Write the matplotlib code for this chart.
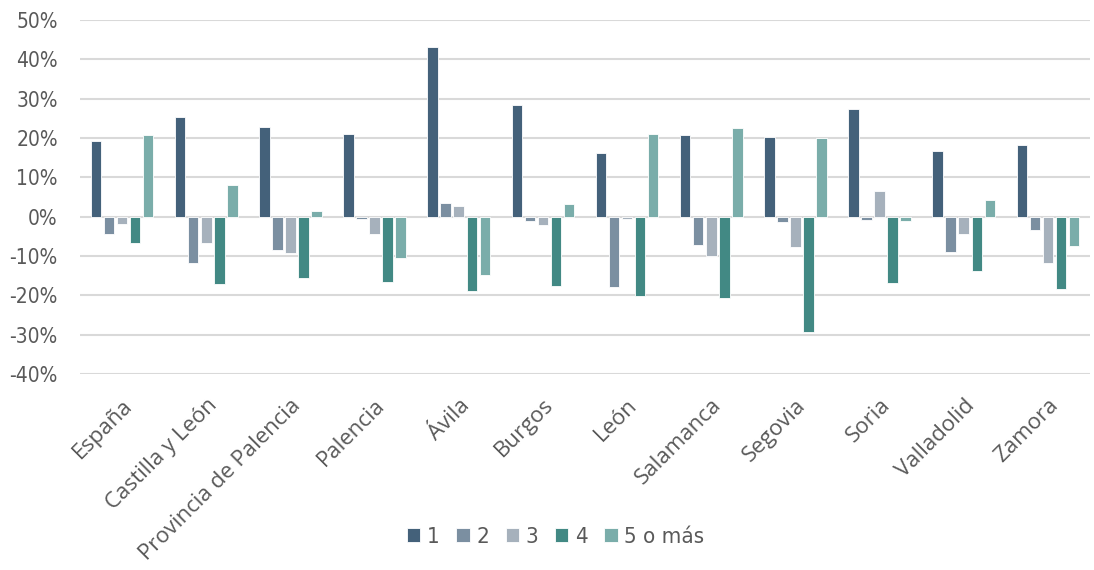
import numpy as np
import matplotlib
matplotlib.use("Agg")
import matplotlib.pyplot as plt
from matplotlib.ticker import FuncFormatter
from matplotlib.font_manager import FontProperties

# Variación (%) por número de miembros del hogar
categorias = ["España", "Castilla y León", "Provincia de Palencia", "Palencia", "Ávila",
              "Burgos", "León", "Salamanca", "Segovia", "Soria", "Valladolid", "Zamora"]
series = ["1", "2", "3", "4", "5 o más"]

s1 = [19.3, 25.4, 22.9, 20.9, 43.1, 28.4, 16.2, 20.8, 20.2, 27.5, 16.7, 18.2]
s2 = [-4.3, -11.9, -8.5, -0.6, 3.4, -1.1, -18.0, -7.1, -1.3, -0.9, -9.0, -3.3]
s3 = [-1.9, -6.8, -9.2, -4.3, 2.8, -2.0, -0.7, -10.0, -7.8, 6.4, -4.4, -11.8]
s4 = [-6.8, -17.2, -15.6, -16.6, -18.8, -17.7, -20.1, -20.7, -29.4, -16.8, -13.8, -18.5]
s5 = [20.7, 8.0, 1.4, -10.4, -14.8, 3.1, 20.9, 22.6, 20.1, -1.0, 4.2, -7.4]

colores = ["#44617a", "#7b8fa1", "#a6b1bc", "#428984", "#7aadaa"]
valores = [s1, s2, s3, s4, s5]

gris = "#595959"
fuente = FontProperties(family="DejaVu Sans", stretch="condensed", size=15)
fuente_ley = FontProperties(family="DejaVu Sans", stretch="condensed", size=16)

fig = plt.figure(figsize=(10.94, 5.70), dpi=100)
ax = fig.add_axes([80 / 1094, 1 - 374 / 570, 1010 / 1094, 354 / 570])

x = np.arange(len(categorias))
paso = 0.155
ancho = 0.125
for i, (nombre, vals, c) in enumerate(zip(series, valores, colores)):
    ax.bar(x + (i - 2) * paso, vals, width=ancho, color=c, label=nombre,
           edgecolor="white", linewidth=0.6, zorder=3)

ax.set_xlim(-0.5, len(categorias) - 0.5)
ax.set_ylim(-40, 50)
ax.set_yticks(np.arange(-40, 51, 10))
ax.yaxis.set_major_formatter(FuncFormatter(lambda v, p: f"{int(v)}%"))
ax.grid(axis="y", color="#d9d9d9", linewidth=1.5, zorder=0)
ax.set_axisbelow(True)
for s in ax.spines.values():
    s.set_visible(False)
ax.tick_params(axis="both", length=0)
ax.tick_params(axis="y", labelcolor=gris, pad=16)
for lbl in ax.get_yticklabels():
    lbl.set_fontproperties(fuente)

ax.set_xticks(x)
ax.set_xticklabels(categorias, rotation=45, ha="right", rotation_mode="anchor",
                   fontsize=16, color=gris, family="Open Sans")
ax.tick_params(axis="x", pad=15)

leg = ax.legend(loc="upper center", bbox_to_anchor=(0.471, -0.375), ncol=5, frameon=False,
                prop=fuente_ley, labelcolor=gris, handlelength=0.6, handleheight=0.6,
                handletextpad=0.3, columnspacing=0.75)

fig.savefig("out.png", dpi=100, facecolor="white")
